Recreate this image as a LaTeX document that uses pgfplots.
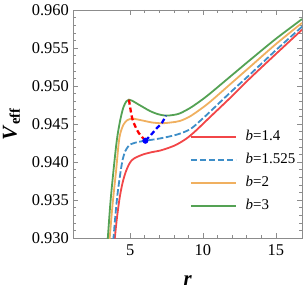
\documentclass[border=0pt]{standalone}
\usepackage{fontspec}
\setmainfont{Liberation Serif}
\usepackage{pgfplots}
\pgfplotsset{compat=1.18}
\definecolor{cred}{RGB}{242,70,72}
\definecolor{cblue}{RGB}{62,142,200}
\definecolor{corange}{RGB}{240,176,96}
\definecolor{cgreen}{RGB}{84,162,84}
\definecolor{framegray}{RGB}{140,140,140}
\begin{document}
\begin{tikzpicture}
\path[use as bounding box] (-73.3bp,-57bp) rectangle (230.7bp,238bp);
\begin{axis}[
  at={(0,0)}, anchor=south west,
  scale only axis, width=228.7bp, height=228bp,
  xmin=1.1, xmax=16.8, ymin=0.930, ymax=0.960,
  xtick={5,10,15}, ytick={0.930,0.935,0.940,0.945,0.950,0.955,0.960},
  minor x tick num=4, minor y tick num=4,
  tick align=inside,
  major tick length=5bp, minor tick length=2.8bp,
  axis line style={framegray, line width=0.6bp},
  tick style={framegray, line width=0.5bp},
  /pgf/number format/assume math mode=true,
  yticklabel style={/pgf/number format/fixed, /pgf/number format/fixed zerofill, /pgf/number format/precision=3, xshift=-1bp},
  ticklabel style={font=\fontsize{16.5}{18}\selectfont, black},
  xticklabel style={yshift=-3bp},
  xlabel={\textbf{\textit{r}}},
  ylabel={\textbf{\textit{V}}\textsubscript{\textbf{eff}}},
  label style={font=\fontsize{21}{24}\selectfont},
  xlabel style={at={(rel axis cs:0.5,-0.21)}, anchor=base},
  ylabel style={at={(rel axis cs:-0.27,0.5)}, anchor=center},
  clip=true,
  legend cell align=left,
  legend style={draw=none, fill=none, at={(rel axis cs:0.496,0.485)}, anchor=north west,
    font=\fontsize{15}{17}\selectfont, row sep=9bp, column sep=9bp,
    nodes={inner sep=0pt, text height=11bp, text depth=3bp}},
  legend image code/.code={\draw[#1, line width=1.8bp] (0bp,0bp) -- (45bp,0bp);},
]
\addplot[cred, line width=1.8bp, smooth] coordinates {
(3.90,0.9290) (3.95,0.9300) (4.10,0.9327) (4.30,0.9355) (4.50,0.9374) (4.70,0.9387)
(4.90,0.9396) (5.10,0.9402) (5.40,0.9406) (5.90,0.9410) (6.50,0.9413)
(7.05,0.9415) (7.70,0.9419) (8.20,0.9423) (8.88,0.9431) (9.50,0.9441) (10.48,0.9459)
(11.85,0.9484) (13.22,0.9510) (15.00,0.9542) (16.80,0.9574)};
\addlegendentry{\textit{b}=1.4}
\addplot[cblue, line width=1.8bp, dash pattern=on 6.5bp off 2.5bp, smooth] coordinates {
(3.80,0.9285) (3.86,0.9300) (4.00,0.9332) (4.15,0.9360) (4.36,0.9389) (4.50,0.9404)
(4.66,0.9414) (4.85,0.9420) (5.00,0.9423) (5.46,0.9426) (6.05,0.9428)
(7.05,0.9431) (8.20,0.9436) (9.11,0.9443) (9.80,0.9454)
(10.48,0.9466) (11.85,0.9491) (13.22,0.9515) (15.00,0.9547) (16.80,0.9578)};
\addlegendentry{\textit{b}=1.525}
\addplot[corange, line width=1.8bp, smooth] coordinates {
(3.50,0.9275) (3.60,0.9300) (3.80,0.9345) (4.04,0.9389) (4.20,0.9422) (4.32,0.9437)
(4.54,0.9449) (4.80,0.9455) (5.15,0.9457) (5.50,0.9456) (6.00,0.9454) (6.50,0.9452)
(7.17,0.9451) (7.80,0.9452) (8.42,0.9454) (9.11,0.9460) (9.80,0.9469) (10.48,0.9479)
(11.85,0.9502) (13.22,0.9525) (15.00,0.9555) (16.80,0.9583)};
\addlegendentry{\textit{b}=2}
\addplot[cgreen, line width=1.8bp, smooth] coordinates {
(3.35,0.9270) (3.47,0.9300) (3.65,0.9347) (3.86,0.9389) (4.09,0.9429) (4.32,0.9455)
(4.54,0.9472) (4.75,0.9480) (4.92,0.9482) (5.20,0.9480) (5.46,0.9477) (5.91,0.9472)
(6.37,0.9467) (6.90,0.9463) (7.45,0.9461) (8.00,0.9462) (8.42,0.9464) (9.11,0.9471)
(9.80,0.9480) (10.48,0.9490) (11.85,0.9512) (13.22,0.9534) (15.00,0.9562) (16.80,0.9588)};
\addlegendentry{\textit{b}=3}
\addplot[red, line width=2.3bp, dash pattern=on 5bp off 3bp, smooth, forget plot] coordinates {
(4.92,0.9482) (5.02,0.9470) (5.15,0.9457) (5.35,0.9447) (5.60,0.9438) (6.05,0.9428)};
\addplot[blue, line width=2.3bp, dash pattern=on 5bp off 3bp, smooth, forget plot] coordinates {
(6.05,0.9428) (6.45,0.9436) (6.85,0.9445) (7.17,0.9451) (7.45,0.9461)};
\addplot[blue, only marks, mark=*, mark size=2.8bp, forget plot] coordinates {(6.05,0.9428)};
\end{axis}
\end{tikzpicture}
\end{document}
